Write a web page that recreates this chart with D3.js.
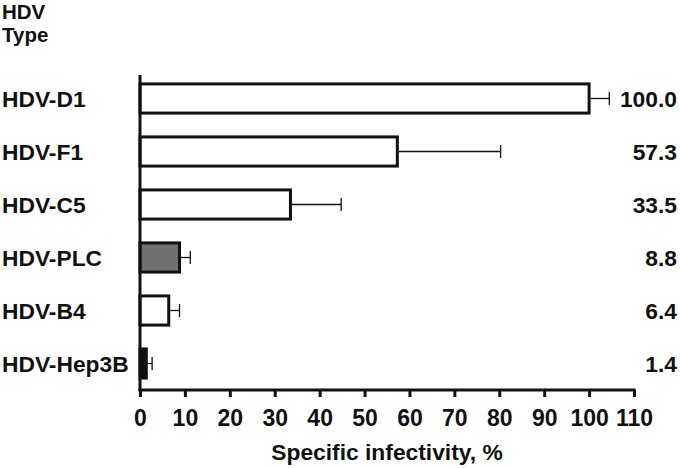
<!DOCTYPE html>
<html>
<head>
<meta charset="utf-8">
<script src="https://cdn.jsdelivr.net/npm/d3@7"></script>
<style>
  body { margin: 0; background: #fff; }
  text { font-family: "Liberation Sans", Arial, sans-serif; font-weight: bold; fill: #111; }
</style>
</head>
<body>
<script>
var categories = ["HDV-D1", "HDV-F1", "HDV-C5", "HDV-PLC", "HDV-B4", "HDV-Hep3B"];
var values = [100.0, 57.3, 33.5, 8.8, 6.4, 1.4];
var errors = [4.5, 23.0, 11.3, 2.4, 2.4, 1.3];
var fills = ["#fff", "#fff", "#fff", "#707070", "#fff", "#111"];
var xTicks = [0, 10, 20, 30, 40, 50, 60, 70, 80, 90, 100, 110];

var width = 680, height = 468;

var svg = d3.select("body").append("svg")
  .attr("width", width)
  .attr("height", height);

var x = d3.scaleLinear().domain([0, 110]).range([140, 634]);
var y = d3.scaleBand().domain(categories).range([72, 390])
  .paddingInner(0.45).paddingOuter(0.225);

// header
svg.append("text").attr("x", 2).attr("y", 19).style("font-size", "20.5px").text("HDV");
svg.append("text").attr("x", 2).attr("y", 42).style("font-size", "20.5px").text("Type");

// bars
svg.selectAll("rect.bar")
  .data(values)
  .enter()
  .append("rect")
  .attr("class", "bar")
  .attr("x", x(0))
  .attr("y", function(d, i) { return y(categories[i]); })
  .attr("width", function(d) { return x(d) - x(0); })
  .attr("height", y.bandwidth())
  .attr("fill", function(d, i) { return fills[i]; })
  .attr("stroke", "#111")
  .attr("stroke-width", 3);

// error bars
var eb = svg.selectAll("g.err")
  .data(values)
  .enter()
  .append("g")
  .attr("class", "err");

eb.append("line")
  .attr("x1", function(d) { return x(d) + 1.5; })
  .attr("x2", function(d, i) { return x(d + errors[i]); })
  .attr("y1", function(d, i) { return y(categories[i]) + y.bandwidth() / 2; })
  .attr("y2", function(d, i) { return y(categories[i]) + y.bandwidth() / 2; })
  .attr("stroke", "#111")
  .attr("stroke-width", 1.3);

eb.append("line")
  .attr("x1", function(d, i) { return x(d + errors[i]); })
  .attr("x2", function(d, i) { return x(d + errors[i]); })
  .attr("y1", function(d, i) { return y(categories[i]) + y.bandwidth() / 2 - 6.5; })
  .attr("y2", function(d, i) { return y(categories[i]) + y.bandwidth() / 2 + 6.5; })
  .attr("stroke", "#111")
  .attr("stroke-width", 1.3);

// category labels
svg.selectAll("text.cat")
  .data(categories)
  .enter()
  .append("text")
  .attr("class", "cat")
  .attr("x", 2)
  .attr("y", function(d) { return y(d) + y.bandwidth() / 2; })
  .attr("dy", "0.36em")
  .style("font-size", "22.8px")
  .text(function(d) { return d; });

// value labels
svg.selectAll("text.val")
  .data(values)
  .enter()
  .append("text")
  .attr("class", "val")
  .attr("x", 677)
  .attr("y", function(d, i) { return y(categories[i]) + y.bandwidth() / 2; })
  .attr("dy", "0.36em")
  .attr("text-anchor", "end")
  .style("font-size", "22.8px")
  .text(function(d) { return d.toFixed(1); });

// y axis line
svg.append("line")
  .attr("x1", x(0)).attr("x2", x(0))
  .attr("y1", 75).attr("y2", 391)
  .attr("stroke", "#111")
  .attr("stroke-width", 3);

// x axis
var xAxis = d3.axisBottom(x)
  .tickValues(xTicks)
  .tickSize(7)
  .tickSizeOuter(0)
  .tickPadding(13);

var gx = svg.append("g")
  .attr("transform", "translate(0,390)")
  .call(xAxis);

gx.select(".domain")
  .attr("stroke", "#111")
  .attr("stroke-width", 3)
  .attr("d", "M" + (x(0) - 1.5) + ",0H" + (x(110) + 1.5));
gx.selectAll(".tick line").attr("stroke", "#111").attr("stroke-width", 3);
gx.selectAll(".tick text")
  .style("font-family", "'Liberation Sans', Arial, sans-serif")
  .style("font-weight", "bold")
  .style("font-size", "23px")
  .attr("fill", "#111");

svg.append("text")
  .attr("x", (x(0) + x(110)) / 2)
  .attr("y", 460)
  .attr("text-anchor", "middle")
  .style("font-size", "22.8px")
  .text("Specific infectivity, %");
</script>
</body>
</html>
